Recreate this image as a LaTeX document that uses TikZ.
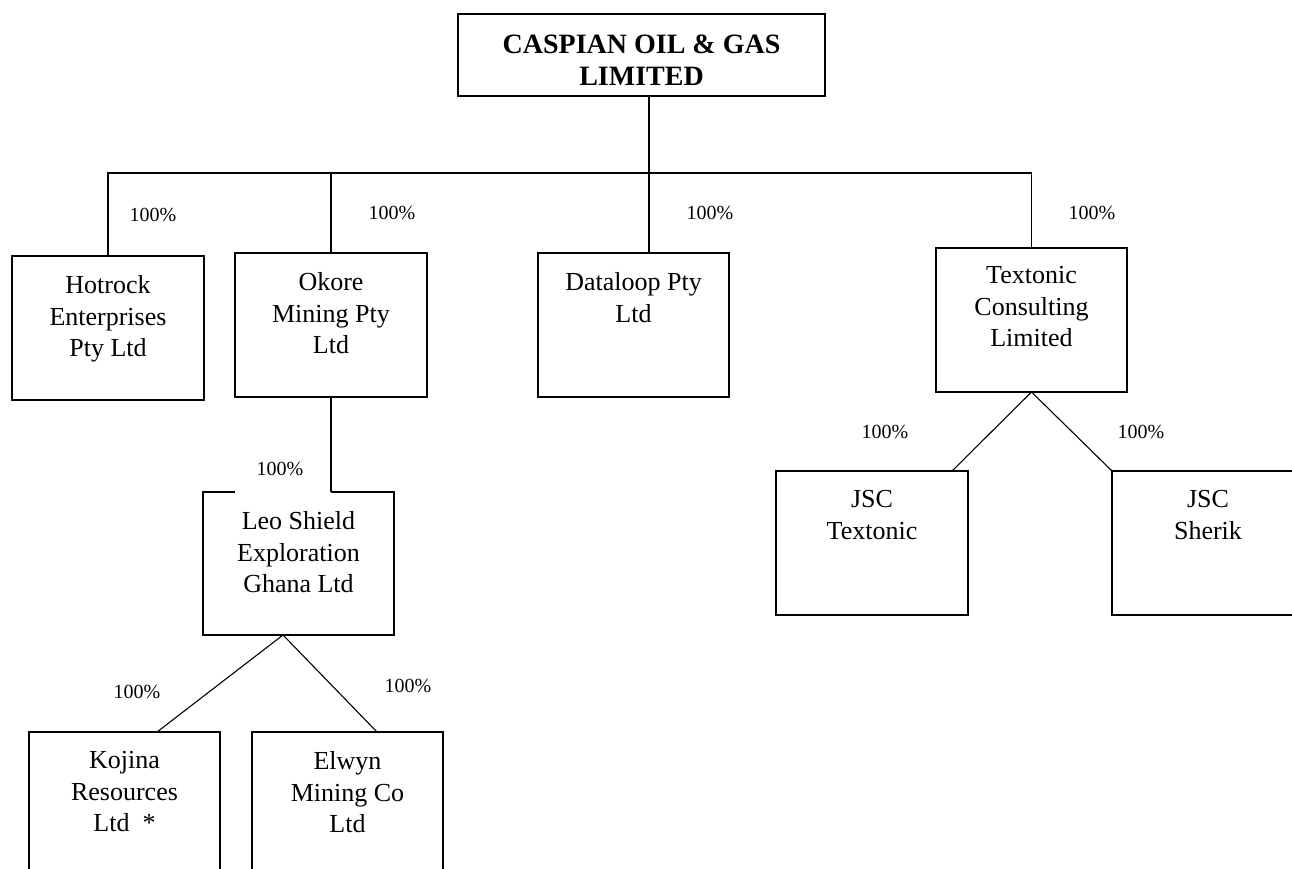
\documentclass[tikz,border=0pt]{standalone}
\usepackage{fontspec}
\setmainfont{Liberation Serif}
\usetikzlibrary{calc}
\begin{document}
\begin{tikzpicture}[x=1pt,y=-1pt,line width=1.1pt,
  orgbox/.style={draw,rectangle,inner sep=0pt,outer sep=0pt},
  hidbox/.style={rectangle,inner sep=0pt,outer sep=0pt},
  txt/.style={inner sep=0pt,align=center,anchor=north,font=\fontsize{26}{31.5}\selectfont},
  pct/.style={inner sep=0pt,anchor=base,font=\fontsize{20}{24}\selectfont}]
\useasboundingbox (0,0) rectangle (1292,869);
\clip (0,0) rectangle (1292,869);
\fill[white] (0,0) rectangle (1292,869);
% boxes
\node[orgbox,minimum width=367pt,minimum height=82pt] (caspian) at (641.5,55) {};
\node[orgbox,minimum width=192pt,minimum height=144pt] (hotrock) at (108,328) {};
\node[orgbox,minimum width=192pt,minimum height=144pt] (okore) at (331,325) {};
\node[orgbox,minimum width=191pt,minimum height=144pt] (dataloop) at (633.5,325) {};
\node[orgbox,minimum width=191pt,minimum height=144pt] (textonic) at (1031.5,320) {};
\node[hidbox,minimum width=191pt,minimum height=143pt] (leo) at (298.5,563.5) {};
\node[orgbox,minimum width=192pt,minimum height=144pt] (jsct) at (872,543) {};
\node[orgbox,minimum width=192pt,minimum height=144pt] (sherik) at (1208,543) {};
\node[orgbox,minimum width=191pt,minimum height=144pt] (kojina) at (124.5,804) {};
\node[orgbox,minimum width=191pt,minimum height=144pt] (elwyn) at (347.5,804) {};
% texts
\node[inner sep=0pt,align=center,anchor=north,font=\fontsize{28}{32}\selectfont\bfseries] (caspianT) at ([yshift=-20pt]caspian.north) {CASPIAN OIL \& GAS\\LIMITED};
\node[txt] (hotrockT) at ([yshift=-19pt]hotrock.north) {Hotrock\\Enterprises\\Pty Ltd};
\node[txt] (okoreT) at ([yshift=-19pt]okore.north) {Okore\\Mining Pty\\Ltd};
\node[txt] (dataloopT) at ([yshift=-19pt]dataloop.north) {Dataloop Pty\\Ltd};
\node[txt] (textonicT) at ([yshift=-18pt]textonic.north) {Textonic\\Consulting\\Limited};
\node[txt] (leoT) at ([yshift=-19pt]leo.north) {Leo Shield\\Exploration\\Ghana Ltd};
\node[txt] (jsctT) at ([yshift=-19pt]jsct.north) {JSC\\Textonic};
\node[txt] (sherikT) at ([yshift=-19pt]sherik.north) {JSC\\Sherik};
\node[txt] (kojinaT) at ([yshift=-19pt]kojina.north) {Kojina\\Resources\\Ltd\ \ *};
\node[txt] (elwynT) at ([yshift=-19pt]elwyn.north) {Elwyn\\Mining Co\\Ltd};
% Leo box with gap in top edge
\draw ($(leo.north west)+(32,0)$) -- (leo.north west) -- (leo.south west) -- (leo.south east) -- (leo.north east) -- (okore.south |- leo.north);
% connectors
\coordinate (bus) at (649,173);
\draw (caspian.south -| bus) -- (bus);
\draw (hotrock.north) |- (bus) -| (textonic.north);
\draw (okore.north) -- (okore.north |- bus);
\draw (dataloop.north -| bus) -- (bus);
\draw (okore.south) -- (okore.south |- leo.north);
\coordinate (leoA) at ($(leo.south west)+(80,0)$);
\draw ($(kojina.north west)+(128,0)$) -- (leoA) -- ($(elwyn.north west)+(125,0)$);
\draw ($(jsct.north east)+(-16,0)$) -- (textonic.south) -- (sherik.north west);
% percentages
\node[pct] (p1) at (153,222) {100\%};
\node[pct] (p2) at (392,219) {100\%};
\node[pct] (p3) at (710,219) {100\%};
\node[pct] (p4) at (1092,219) {100\%};
\node[pct] (p5) at (885,438) {100\%};
\node[pct] (p6) at (1141,438) {100\%};
\node[pct] (p7) at (280,475) {100\%};
\node[pct] (p8) at (137,698) {100\%};
\node[pct] (p9) at (408,692) {100\%};
\end{tikzpicture}
\end{document}
